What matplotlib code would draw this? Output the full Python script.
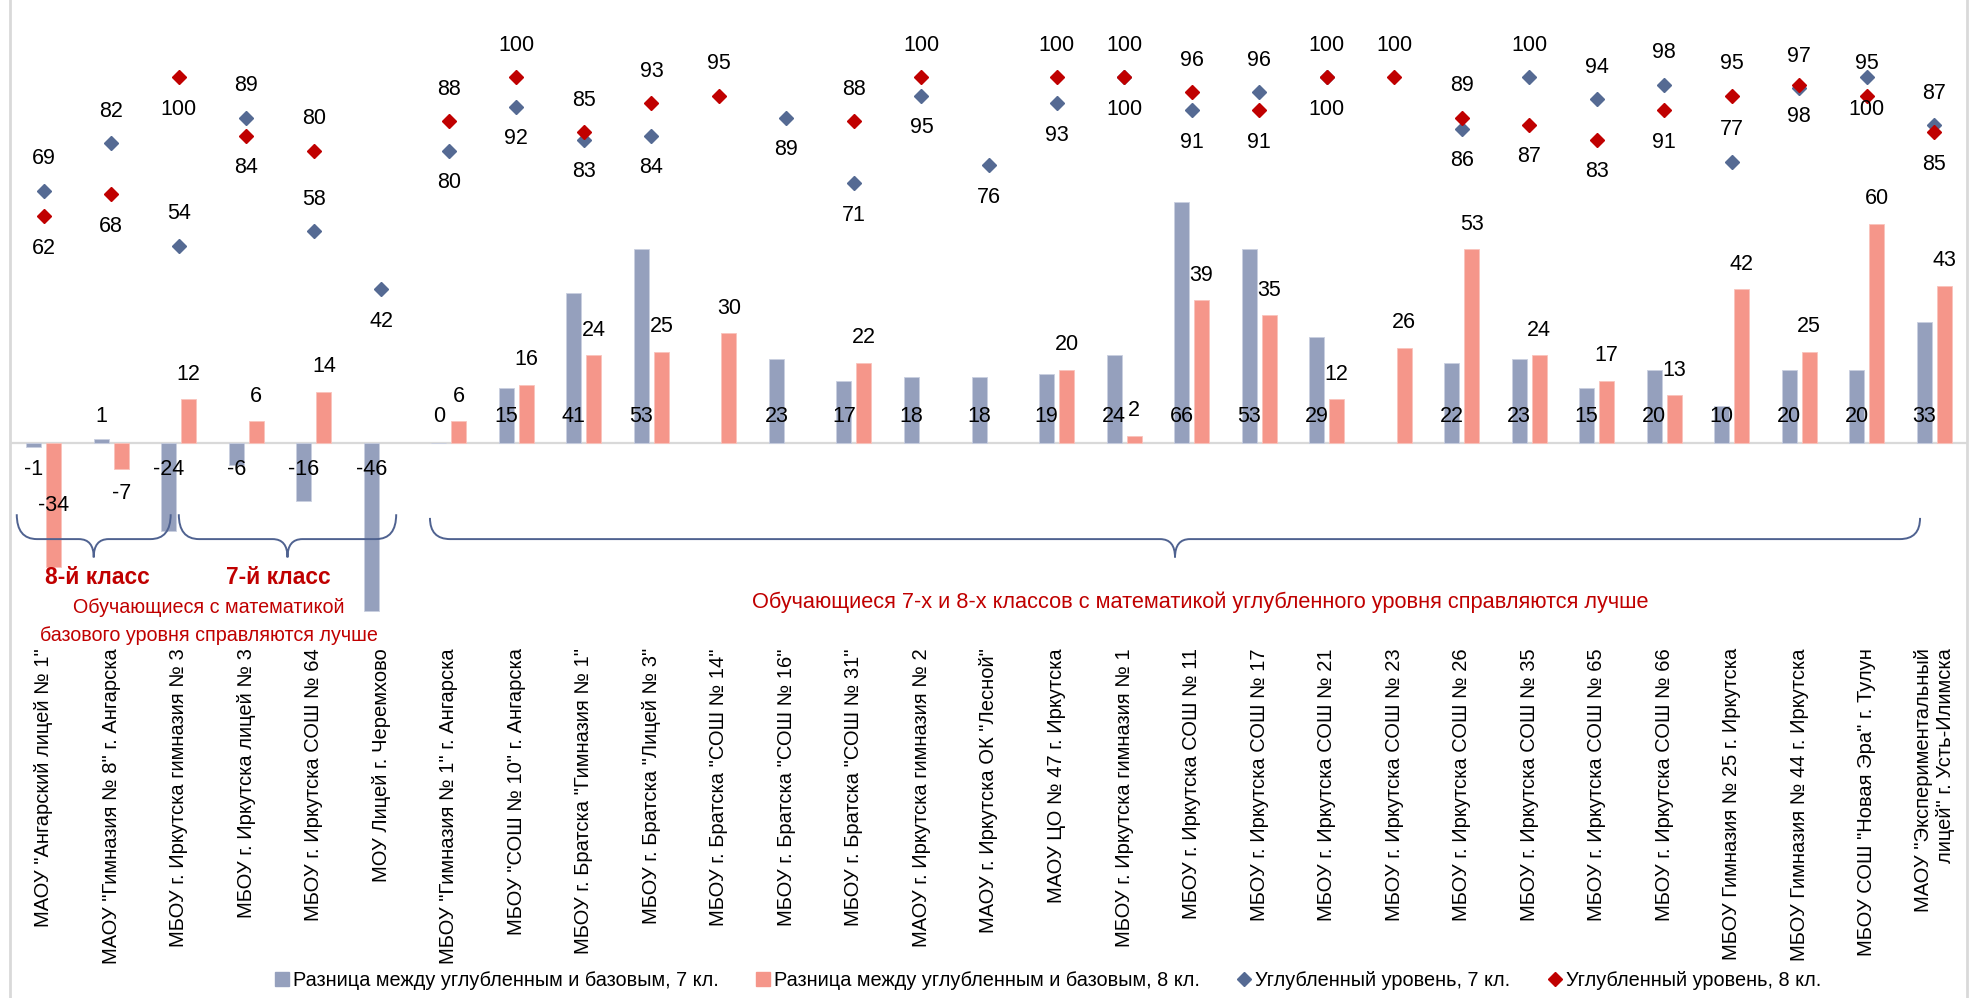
import matplotlib
matplotlib.use('Agg')
import matplotlib.pyplot as plt
from matplotlib import font_manager
from matplotlib.path import Path
from matplotlib.patches import PathPatch
from matplotlib.lines import Line2D
import numpy as np

# schools (x categories)
schools = ['МАОУ "Ангарский лицей № 1"', 'МАОУ "Гимназия № 8" г. Ангарска',
           'МБОУ г. Иркутска гимназия № 3', 'МБОУ г. Иркутска лицей № 3',
           'МБОУ г. Иркутска СОШ № 64', 'МОУ Лицей г. Черемхово',
           'МБОУ "Гимназия № 1" г. Ангарска', 'МБОУ "СОШ № 10" г. Ангарска',
           'МБОУ г. Братска "Гимназия № 1"', 'МБОУ г. Братска "Лицей № 3"',
           'МБОУ г. Братска "СОШ № 14"', 'МБОУ г. Братска "СОШ № 16"',
           'МБОУ г. Братска "СОШ № 31"', 'МАОУ г. Иркутска гимназия № 2',
           'МАОУ г. Иркутска ОК "Лесной"', 'МАОУ ЦО № 47 г. Иркутска',
           'МБОУ г. Иркутска гимназия № 1', 'МБОУ г. Иркутска СОШ № 11',
           'МБОУ г. Иркутска СОШ № 17', 'МБОУ г. Иркутска СОШ № 21',
           'МБОУ г. Иркутска СОШ № 23', 'МБОУ г. Иркутска СОШ № 26',
           'МБОУ г. Иркутска СОШ № 35', 'МБОУ г. Иркутска СОШ № 65',
           'МБОУ г. Иркутска СОШ № 66', 'МБОУ Гимназия № 25 г. Иркутска',
           'МБОУ Гимназия № 44 г. Иркутска', 'МБОУ СОШ "Новая Эра" г. Тулун',
           'МАОУ "Экспериментальный\nлицей" г. Усть-Илимска']

# difference deep - base (bars)
diff7 = [-1, 1, -24, -6, -16, -46, 0, 15, 41, 53, None, 23, 17, 18, 18, 19, 24,
         66, 53, 29, None, 22, 23, 15, 20, 10, 20, 20, 33]
diff8 = [-34, -7, 12, 6, 14, None, 6, 16, 24, 25, 30, None, 22, None, None, 20, 2,
         39, 35, 12, 26, 53, 24, 17, 13, 42, 25, 60, 43]
# deep level results (markers)
deep7 = [69, 82, 54, 89, 58, 42, 80, 92, 83, 84, None, 89, 71, 95, 76, 93, 100,
         91, 96, 100, None, 86, 100, 94, 98, 77, 97, 100, 87]
deep8 = [62, 68, 100, 84, 80, None, 88, 100, 85, 93, 95, None, 88, 100, None, 100, 100,
         96, 91, 100, 100, 89, 87, 83, 91, 95, 98, 95, 85]

legend_names = ['Разница между углубленным и базовым, 7 кл.',
                'Разница между углубленным и базовым, 8 кл.',
                'Углубленный уровень, 7 кл.', 'Углубленный уровень, 8 кл.']

# label side for marker labels: 1 above, -1 below
side7 = [1, 1, 1, 1, 1, -1, -1, -1, -1, -1, 0, -1, -1, -1, -1, -1, -1, -1, 1, -1, 0,
         -1, 1, 1, 1, 1, 1, -1, 1]
side8 = [-1, -1, -1, -1, 1, 0, 1, 1, 1, 1, 1, 0, 1, 1, 0, 1, 1, 1, -1, 1, 1, 1, -1,
         -1, -1, 1, -1, 1, -1]

c_bar7 = '#95A0BD'
c_bar8 = '#F5968A'
c_pt7 = '#556A93'
c_pt8 = '#C00000'
c_red = '#C00000'
c_brace = '#4F6290'

names = {f.name for f in font_manager.fontManager.ttflist}
narrow = 'Liberation Sans Narrow' if 'Liberation Sans Narrow' in names else 'Liberation Sans'
plt.rcParams['font.family'] = ['Liberation Sans', 'DejaVu Sans']

W, H = 1970, 998
fig = plt.figure(figsize=(W / 100, H / 100), dpi=100)
ax = fig.add_axes([10 / W, 1 - 644 / H, 1958 / W, 639.6 / H])
ax.set_xlim(-0.5, 28.5)
ax.set_ylim(-55, 120)
for s in ax.spines.values():
    s.set_visible(False)
ax.set_yticks([])
x = np.arange(len(schools))
ax.set_xticks(x)
ax.set_xticklabels(schools, rotation=90, ha='center', va='top', fontsize=14.5,
                   multialignment='right')
ax.tick_params(axis='x', length=0, pad=3)
ax.axhline(0, color='#D9D9D9', lw=1.6, zorder=1)

# chart border lines
fig.add_artist(Line2D([10 / W, 10 / W], [0, 1], color='#D9D9D9', lw=2))
fig.add_artist(Line2D([1967 / W, 1967 / W], [0, 1], color='#D9D9D9', lw=2))

d7 = np.array(diff7, dtype=float)
d8 = np.array(diff8, dtype=float)
p7 = np.array(deep7, dtype=float)
p8 = np.array(deep8, dtype=float)

off = 0.148
bw = 0.222
m7 = ~np.isnan(d7)
m8 = ~np.isnan(d8)
ax.bar(x[m7] - off, d7[m7], bw, color=c_bar7, edgecolor='#C9CFE0', lw=0.6, zorder=2)
ax.bar(x[m8] + off, d8[m8], bw, color=c_bar8, edgecolor='#F9C3BC', lw=0.6, zorder=2)

lab = dict(fontsize=15.5, family=[narrow, 'DejaVu Sans'], ha='center', va='center',
           textcoords='offset points', zorder=5)
# bar labels: 7th grade inside base, 8th grade outside end
for i in x[m7]:
    sgn = 1 if d7[i] >= 0 else -1
    ax.annotate('%d' % d7[i], (i - off, 0), xytext=(0, 19 * sgn), **lab)
for i in x[m8]:
    sgn = 1 if d8[i] >= 0 else -1
    if d8[i] < -20:
        ax.annotate('%d' % d8[i], (i + off, d8[i] / 2), xytext=(0, 0), **lab)
    else:
        ax.annotate('%d' % d8[i], (i + off, d8[i]), xytext=(0, 18 * sgn), **lab)

ax.plot(x, p7, ls='none', marker='D', ms=6.8, color=c_pt7, zorder=4)
ax.plot(x, p8, ls='none', marker='D', ms=6.8, color=c_pt8, zorder=4)
for i in x:
    if not np.isnan(p7[i]):
        ax.annotate('%d' % p7[i], (i, p7[i]), xytext=(0, 23 * side7[i]), **lab)
    if not np.isnan(p8[i]):
        ax.annotate('%d' % p8[i], (i, p8[i]), xytext=(0, 23 * side8[i]), **lab)


def brace(x0, x1, ytop, ymid, ytip, r=0.3, r2=0.22):
    xc = (x0 + x1) / 2
    verts = [(x0, ytop), (x0, ymid), (x0 + r, ymid),
             (xc - r2, ymid), (xc, ymid), (xc, ytip),
             (xc, ymid), (xc + r2, ymid),
             (x1 - r, ymid), (x1, ymid), (x1, ytop)]
    codes = [Path.MOVETO, Path.CURVE3, Path.CURVE3,
             Path.LINETO, Path.CURVE3, Path.CURVE3,
             Path.CURVE3, Path.CURVE3,
             Path.LINETO, Path.CURVE3, Path.CURVE3]
    ax.add_patch(PathPatch(Path(verts, codes), fill=False, ec=c_brace, lw=1.4,
                           clip_on=False, zorder=3))


brace(-0.4, 1.88, -19.5, -26.3, -31.3)
brace(2.0, 5.22, -19.5, -26.3, -31.3)
brace(5.72, 27.79, -20.5, -26.3, -31.3)

txt = dict(color=c_red, family=[narrow, 'DejaVu Sans'], ha='center', va='center')
ax.text(0.79, -36.7, '8-й класс', fontsize=16.4, fontweight='bold', **txt)
ax.text(3.48, -36.7, '7-й класс', fontsize=16.4, fontweight='bold', **txt)
ax.text(2.44, -44.9, 'Обучающиеся с математикой', fontsize=14.2, **txt)
ax.text(2.44, -52.8, 'базового уровня справляются лучше', fontsize=14.2, **txt)
ax.text(17.13, -43.6, 'Обучающиеся 7-х и 8-х классов с математикой углубленного уровня справляются лучше',
        fontsize=15.7, **txt)

handles = [Line2D([], [], ls='none', marker='s', ms=9.5, color=c_bar7),
           Line2D([], [], ls='none', marker='s', ms=9.5, color=c_bar8),
           Line2D([], [], ls='none', marker='D', ms=6.8, color=c_pt7),
           Line2D([], [], ls='none', marker='D', ms=6.8, color=c_pt8)]
fig.legend(handles, legend_names, loc='center', ncol=4, bbox_to_anchor=(1048 / W, 1 - 980 / H),
           frameon=False, prop={'family': [narrow, 'DejaVu Sans'], 'size': 14.3},
           handlelength=0.7, handletextpad=0.2, columnspacing=1.9, borderpad=0)

fig.savefig('out.png', dpi=100)
